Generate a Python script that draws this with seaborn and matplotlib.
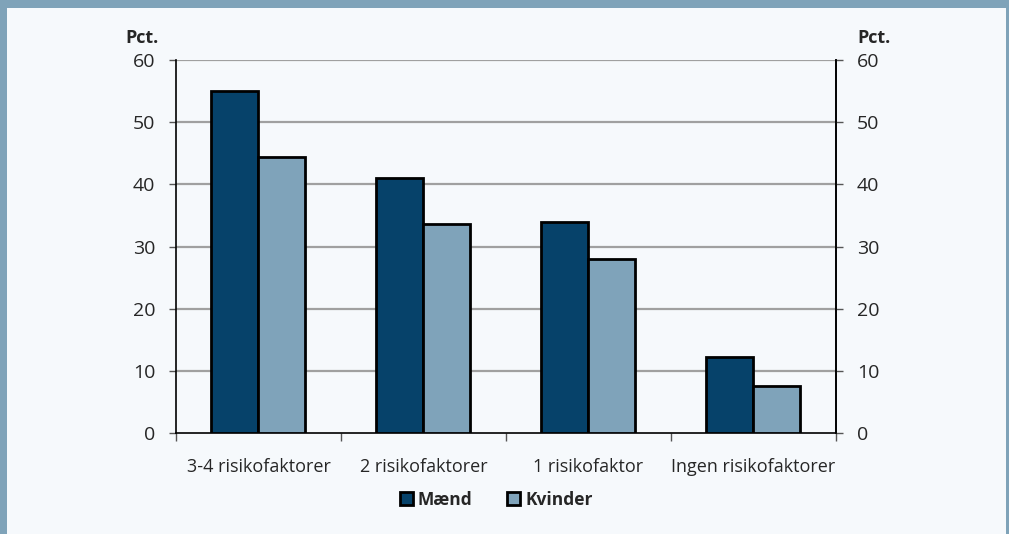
import matplotlib.pyplot as plt
import matplotlib.patches as mpatches
import seaborn as sns
import pandas as pd

categories = ['3-4 risikofaktorer', '2 risikofaktorer', '1 risikofaktor', 'Ingen risikofaktorer']
maend = [55.0, 41.0, 34.0, 12.2]
kvinder = [44.4, 33.6, 28.0, 7.5]
series = ['Mænd', 'Kvinder']
colors = ['#06426a', '#7fa3ba']
yticks = [0, 10, 20, 30, 40, 50, 60]

df = pd.DataFrame({
    'kategori': categories * 2,
    'køn': [series[0]] * 4 + [series[1]] * 4,
    'pct': maend + kvinder,
})

sns.set_theme(style="white")
plt.rcParams['font.family'] = ['Open Sans', 'DejaVu Sans']

bg = '#f6f9fc'
border = '#7fa3b9'

fig = plt.figure(figsize=(10.09, 5.34), dpi=100, facecolor=bg)
ax = fig.add_axes([0.1744, 0.1891, 0.6541, 0.6985])
ax.set_facecolor('none')

sns.barplot(data=df, x='kategori', y='pct', hue='køn', palette=colors, saturation=1,
            width=0.57, gap=0, edgecolor='black', linewidth=2, ax=ax,
            legend=False, zorder=3)

ax.set_ylim(0, 60)
ax.set_xlim(-0.5, 3.5)
ax.set_yticks(yticks)
ax.set_xlabel('')
ax.set_ylabel('')
for y in yticks[1:]:
    ax.axhline(y, color='#a0a0a0', linewidth=1.6, zorder=1)

for s in ['left', 'bottom', 'right']:
    ax.spines[s].set_color('black')
    ax.spines[s].set_linewidth(1.2)
ax.spines['top'].set_visible(False)

ax.tick_params(axis='y', which='major', direction='out', length=5, width=1,
               color='#555555', labelsize=14, pad=10, left=True)
ax.tick_params(axis='x', which='major', length=0, labelsize=13, pad=18)
ax.set_xticks([-0.5, 0.5, 1.5, 2.5, 3.5], minor=True)
ax.tick_params(axis='x', which='minor', direction='out', length=6, width=1,
               color='#555555', bottom=True)

ax2 = ax.twinx()
ax2.set_ylim(0, 60)
ax2.set_yticks(yticks)
ax2.spines['top'].set_visible(False)
ax2.spines['left'].set_visible(False)
ax2.spines['bottom'].set_visible(False)
ax2.spines['right'].set_color('black')
ax2.spines['right'].set_linewidth(1.2)
ax2.tick_params(axis='y', direction='out', length=5, width=1, color='#555555',
                labelsize=14, pad=10, right=True)
ax2.grid(False)

fig.text(0.141, 0.928, 'Pct.', fontsize=13, fontweight='bold', ha='center', va='center')
fig.text(0.866, 0.928, 'Pct.', fontsize=13, fontweight='bold', ha='center', va='center')

handles = [mpatches.Patch(facecolor=c, edgecolor='black', linewidth=2, label=s)
           for c, s in zip(colors, series)]
leg = fig.legend(handles=handles, loc='center', bbox_to_anchor=(0.492, 0.064), ncol=2,
                 frameon=False, handlelength=0.75, handleheight=0.75, handletextpad=0.3,
                 columnspacing=2.0, prop={'weight': 'bold', 'size': 12.5})

# frame around figure
fig.patches.append(mpatches.Rectangle((0, 1 - 8 / 534), 1, 8 / 534, transform=fig.transFigure,
                                      facecolor=border, edgecolor='none'))
fig.patches.append(mpatches.Rectangle((0, 0), 7 / 1009, 1, transform=fig.transFigure,
                                      facecolor=border, edgecolor='none'))
fig.patches.append(mpatches.Rectangle((1 - 3 / 1009, 0), 3 / 1009, 1, transform=fig.transFigure,
                                      facecolor=border, edgecolor='none'))

fig.savefig('out.png', dpi=100, facecolor=bg)
